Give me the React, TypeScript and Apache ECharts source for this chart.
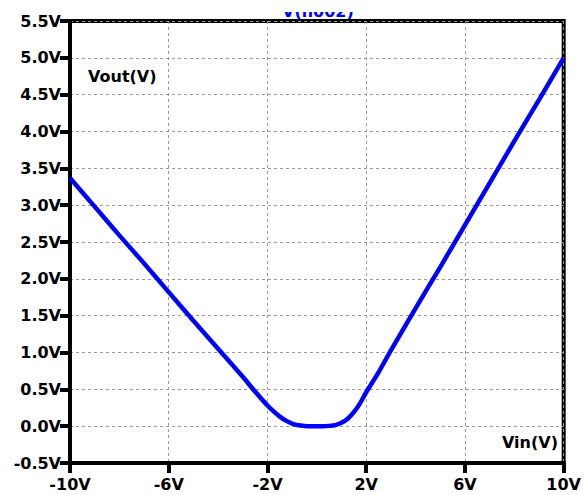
import React, { useEffect, useRef } from "react";
import * as echarts from "echarts";

const vin = [-10, -9, -8, -7, -6, -5, -4, -3, -2.5, -2, -1.75, -1.5, -1.25, -1, -0.75, -0.5, -0.25, 0, 0.25, 0.5, 0.75, 1, 1.25, 1.5, 1.75, 2, 2.5, 3, 4, 5, 6, 7, 8, 9, 10];
const vout = [3.37, 2.98, 2.59, 2.21, 1.82, 1.43, 1.05, 0.67, 0.47, 0.28, 0.2, 0.13, 0.075, 0.035, 0.012, 0.003, 0, 0, 0, 0.004, 0.015, 0.045, 0.1, 0.19, 0.31, 0.46, 0.73, 1.03, 1.6, 2.16, 2.73, 3.3, 3.87, 4.43, 5.0];
const xTicks = [-10, -6, -2, 2, 6, 10];
const traceName = "V(n002)";
const yLabel = "Vout(V)";
const xLabel = "Vin(V)";

const FONT = "DejaVu Sans";

export default function App() {
  const ref = useRef<HTMLDivElement>(null);
  useEffect(() => {
    if (!ref.current) return;
    const chart = echarts.init(ref.current, null, { renderer: "svg" });
    const data = vin.map((x, i) => [x, vout[i]]);
    chart.setOption({
      animation: false,
      backgroundColor: "#fff",
      grid: {
        left: 70,
        right: 20,
        top: 21,
        bottom: 32,
        show: true,
        borderColor: "#000",
        borderWidth: 4,
        backgroundColor: "transparent",
      },
      xAxis: {
        type: "value",
        min: -10,
        max: 10,
        axisLine: { show: true, onZero: false, lineStyle: { color: "#000", width: 4 } },
        axisTick: { show: true, customValues: xTicks, length: 10, lineStyle: { color: "#000", width: 4 } },
        axisLabel: {
          customValues: xTicks,
          margin: 13,
          color: "#000",
          fontFamily: FONT,
          fontWeight: "bold",
          fontSize: 16,
          formatter: (v: number) => `${v}V`,
        },
        splitLine: { show: true, lineStyle: { color: "#999", width: 1, type: [3, 3] } },
      },
      yAxis: {
        type: "value",
        min: -0.5,
        max: 5.5,
        interval: 0.5,
        axisLine: { show: true, onZero: false, lineStyle: { color: "#000", width: 4 } },
        axisTick: { show: true, length: 10, lineStyle: { color: "#000", width: 4 } },
        axisLabel: {
          margin: 9,
          color: "#000",
          fontFamily: FONT,
          fontWeight: "bold",
          fontSize: 16,
          formatter: (v: number) => `${v.toFixed(1)}V`,
        },
        splitLine: { show: true, lineStyle: { color: "#999", width: 1, type: [3, 3] } },
      },
      series: [
        {
          type: "line",
          name: traceName,
          data,
          showSymbol: false,
          smooth: 0.2,
          lineStyle: { color: "#0000ff", width: 4.5 },
          clip: false,
        },
      ],
      graphic: [
        {
          type: "text",
          x: 282,
          y: 19,
          z: 10,
          style: {
            text: traceName,
            fill: "#0000ff",
            font: `bold 16px "${FONT}"`,
            verticalAlign: "bottom",
          },
        },
        {
          type: "rect",
          shape: { x: 270, y: 0, width: 100, height: 12 },
          style: { fill: "#fff" },
          z: 20,
        },
        {
          type: "text",
          x: 88,
          y: 76,
          z: 10,
          style: {
            text: yLabel,
            fill: "#000",
            font: `bold 16px "${FONT}"`,
            verticalAlign: "middle",
          },
        },
        {
          type: "text",
          x: 502,
          y: 442,
          z: 10,
          style: {
            text: xLabel,
            fill: "#000",
            font: `bold 16px "${FONT}"`,
            verticalAlign: "middle",
          },
        },
      ],
    });
    return () => chart.dispose();
  }, []);
  return (
    <div
      ref={ref}
      style={{ position: "fixed", left: 0, top: 0, width: 584, height: 495 }}
    />
  );
}
